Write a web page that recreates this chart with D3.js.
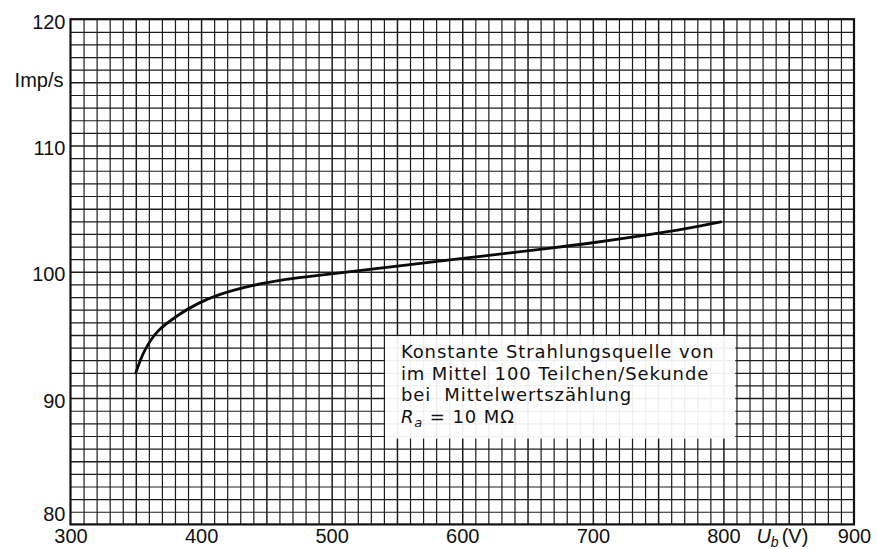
<!DOCTYPE html>
<html>
<head>
<meta charset="utf-8">
<script src="https://cdn.jsdelivr.net/npm/d3@7"></script>
<style>
  html, body { margin: 0; padding: 0; background: #fff; }
  svg { display: block; }
</style>
</head>
<body>
<svg id="chart" width="877" height="549"></svg>
<script>
// ---- data ----
const voltage = [350, 357, 367, 383, 398, 413, 439, 465, 490, 521, 597, 666, 700, 743, 770, 798];
const rate    = [92.0, 93.8, 95.3, 96.6, 97.5, 98.15, 98.9, 99.4, 99.72, 100.1, 101.02, 101.85, 102.3, 102.95, 103.4, 103.95];
const xTickLabels = [300, 400, 500, 600, 700, 800, 900];
const yTickLabels = [80, 90, 100, 110, 120];
const yAxisTitle = "Imp/s";
const noteLines = [
  "Konstante Strahlungsquelle von",
  "im Mittel 100 Teilchen/Sekunde",
  "bei  Mittelwertszählung"
];
const noteBox = { x0: 540, x1: 810, y0: 86.8, y1: 95 };

// ---- layout ----
const svg = d3.select("#chart");
const W = 877, H = 549;
const margin = { left: 70.5, top: 19.2, right: W - 854, bottom: H - 524.4 };
const iw = W - margin.left - margin.right;
const ih = H - margin.top - margin.bottom;

const x = d3.scaleLinear().domain([300, 900]).range([0, iw]);
const y = d3.scaleLinear().domain([80, 120]).range([ih, 0]);

const g = svg.append("g").attr("transform", `translate(${margin.left},${margin.top})`);

// ---- grid (graph paper) ----
const gridColor = "#1c1c1c";
const vMinor = d3.range(310, 900, 10);
const hMinor = d3.range(81, 120, 1);

const gx = g.append("g").attr("class", "gridx")
  .attr("transform", `translate(0,${ih})`)
  .call(d3.axisBottom(x).tickValues(vMinor).tickSize(-ih).tickFormat(""));
gx.select(".domain").remove();
gx.selectAll(".tick line")
  .attr("stroke", gridColor)
  .attr("stroke-width", d => d % 50 === 0 ? 1.5 : 1.2);

const gy = g.append("g").attr("class", "gridy")
  .call(d3.axisLeft(y).tickValues(hMinor).tickSize(-iw).tickFormat(""));
gy.select(".domain").remove();
gy.selectAll(".tick line")
  .attr("stroke", gridColor)
  .attr("stroke-width", d => d % 5 === 0 ? 1.5 : 1.2);

// ---- white note box over the grid ----
g.append("rect")
  .attr("x", x(noteBox.x0) + 1.2)
  .attr("y", y(noteBox.y1) + 1.2)
  .attr("width", x(noteBox.x1) - x(noteBox.x0) - 2.4)
  .attr("height", y(noteBox.y0) - y(noteBox.y1) - 1.2)
  .attr("fill", "#fff")
  .attr("fill-opacity", 0.93);

// ---- frame ----
g.append("rect")
  .attr("x", 0).attr("y", 0).attr("width", iw).attr("height", ih)
  .attr("fill", "none").attr("stroke", "#111").attr("stroke-width", 2.2);

// ---- axes labels ----
const labelFont = "'Liberation Sans', Arial, sans-serif";

const ax = g.append("g")
  .attr("transform", `translate(0,${ih})`)
  .call(d3.axisBottom(x).tickValues(xTickLabels).tickSize(0).tickFormat(d3.format("d")));
ax.select(".domain").remove();
ax.selectAll("text")
  .attr("y", 19).attr("dy", 0)
  .attr("font-family", labelFont).attr("font-size", 20).attr("fill", "#111");

const ay = g.append("g")
  .call(d3.axisLeft(y).tickValues(yTickLabels).tickSize(0).tickPadding(5).tickFormat(d3.format("d")));
ay.select(".domain").remove();
ay.selectAll("text")
  .attr("dy", d => d === 80 ? "-0.2em" : "0.45em")
  .attr("font-family", labelFont).attr("font-size", 20).attr("fill", "#111");

// y-axis title
g.append("text")
  .attr("x", -7).attr("y", 68)
  .attr("text-anchor", "end")
  .attr("font-family", labelFont).attr("font-size", 20).attr("fill", "#111")
  .text(yAxisTitle);

// x-axis title U_b (V)
const xt = g.append("text")
  .attr("x", x(800) + 33).attr("y", ih + 19)
  .attr("font-family", labelFont).attr("font-size", 20).attr("fill", "#111");
xt.append("tspan").attr("font-style", "italic").text("U");
xt.append("tspan").attr("font-style", "italic").attr("font-size", 14).attr("dy", 4).text("b");
xt.append("tspan").attr("dy", -4).attr("dx", 3).text("(V)");

// ---- curve ----
const pts = voltage.map((v, i) => [v, rate[i]]);
const line = d3.line()
  .x(d => x(d[0]))
  .y(d => y(d[1]))
  .curve(d3.curveCatmullRom.alpha(0.5));
g.append("path")
  .datum(pts)
  .attr("d", line)
  .attr("fill", "none")
  .attr("stroke", "#0a0a0a")
  .attr("stroke-width", 2.8)
  .attr("stroke-linecap", "round");

// ---- note text ----
const noteFont = "'DejaVu Sans', Verdana, sans-serif";
const nx = x(noteBox.x0) + 17;
const ny0 = y(noteBox.y1) + 23;
const lh = 21.7;
const note = g.append("g")
  .attr("font-family", noteFont).attr("font-size", 18).attr("fill", "#111")
  .attr("letter-spacing", "0.9px");
noteLines.forEach((t, i) => {
  note.append("text").attr("x", nx).attr("y", ny0 + i * lh)
    .style("white-space", "pre").text(t);
});
const last = note.append("text").attr("x", nx).attr("y", ny0 + 3 * lh)
  .style("white-space", "pre");
last.append("tspan").attr("font-style", "italic").text("R");
last.append("tspan").attr("font-style", "italic").attr("font-size", 13).attr("dy", 4).text("a");
last.append("tspan").attr("dy", -4).text(" = 10 MΩ");
</script>
</body>
</html>
